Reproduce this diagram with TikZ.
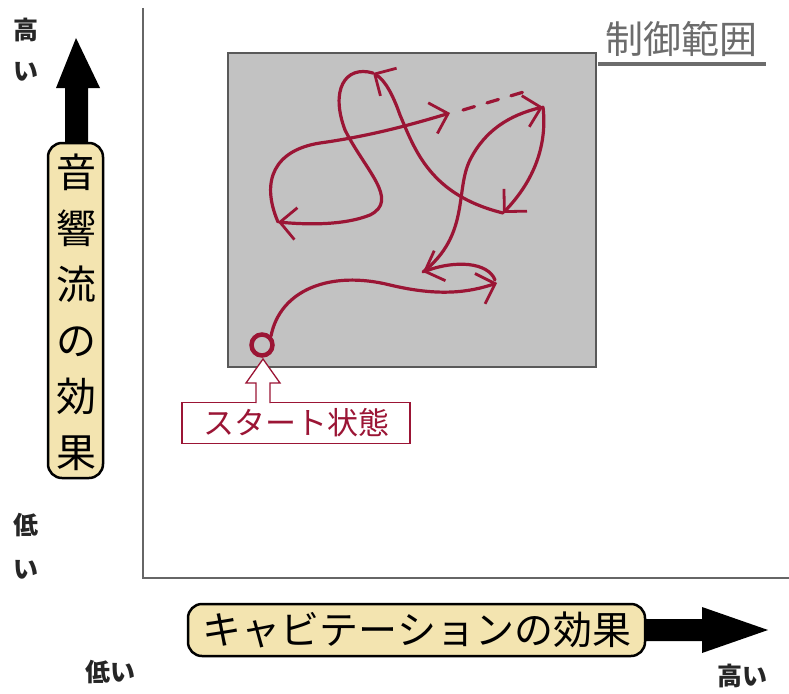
\documentclass[tikz,border=0pt]{standalone}
\usepackage{fontspec}
\setmainfont{Noto Sans CJK JP}
\usetikzlibrary{arrows.meta}
\definecolor{dred}{HTML}{9B1535}
\definecolor{tan}{HTML}{F3E4B0}
\definecolor{boxgray}{HTML}{C2C2C2}
\tikzset{
  axisline/.style={draw=gray!80!black, line width=1.6pt},
  labelbox/.style={draw=black, line width=2.5pt, fill=tan, rounded corners=14pt},
  bigarrow/.style={fill=black},
  curve/.style={draw=dred, line width=3.2pt, line cap=round},
  tipped/.style={curve, -{Straight Barb[length=16pt,width=32pt,line width=2.8pt]}},
  small/.style={font=\fontsize{25}{28}\selectfont\bfseries, text=black!85},
}
\begin{document}
\begin{tikzpicture}[x=1pt,y=-1pt]
\useasboundingbox (0,0) rectangle (789,693);
% axes
\coordinate (ytop) at (143,8);
\coordinate (orig) at (143,578);
\coordinate (xend) at (789,578);
\draw[axisline] (ytop) -- (orig) -- (xend);
% control region
\draw[fill=boxgray, draw=gray!70!black, line width=1.2pt] (228,53) rectangle (596,367);
\node[font=\fontsize{38}{40}\selectfont, text=gray!85!black, anchor=south] (ctl) at (681,60) {制御範囲};
\draw[gray!85!black, line width=3pt] (598,64) -- (766,64);
% y axis arrow
\fill[bigarrow] (65,145) -- (65,88) -- (56,88) -- (76,38) -- (100,88) -- (88,88) -- (88,145) -- cycle;
\draw[labelbox] (48,143) rectangle (103,478);
\node[font=\fontsize{40}{56}\selectfont, align=center, text=black] (ylab) at (76,312) {音\\響\\流\\の\\効\\果};
% x axis arrow
\fill[bigarrow] (640,619) -- (702,619) -- (702,607) -- (768,630) -- (702,653) -- (702,641) -- (640,641) -- cycle;
\draw[labelbox] (188,604) rectangle (645,656);
\node[font=\fontsize{39}{40}\selectfont, text=black] (xlab) at (417,630) {キャビテーションの効果};
% high / low labels
\node[small] (yh1) at (26,30) {高};
\node[small] (yh2) at (26,72) {い};
\node[small] (yl1) at (26,525) {低};
\node[small] (yl2) at (26,570) {い};
\node[small] (xl) at (110,672) {低い};
\node[small] (xh) at (742,676) {高い};
% start state
\node[draw=dred, line width=1.2pt, fill=white, font=\fontsize{31}{34}\selectfont, text=dred, minimum width=228pt, minimum height=41pt, inner sep=2pt] (start) at (296,423) {スタート状態};
\draw[dred, line width=1.3pt, fill=white] (256,403) -- (256,383) -- (246,383) -- (263,359) -- (280,383) -- (270,383) -- (270,403);
\node[circle, draw=dred, line width=4.5pt, minimum size=21pt, inner sep=0pt] (s0) at (262,345) {};
% wandering path
\coordinate (a1) at (497,283);
\coordinate (a2) at (423,272);
\coordinate (a3) at (543,107);
\coordinate (a4) at (503,213);
\coordinate (a5) at (373,73);
\coordinate (a6) at (278,222);
\coordinate (a7) at (450,113);
\coordinate (d1) at (463,110);
\coordinate (d2) at (527,91);
\draw[tipped] (s0.north east) .. controls (280,290) and (330,270) .. (390,285) .. controls (440,297) and (470,292) .. (a1);
\draw[tipped] (495,280) .. controls (488,262) and (455,260) .. (a2);
\draw[tipped] (a2) .. controls (470,235) and (455,190) .. (470,160) .. controls (485,130) and (510,115) .. (a3);
\draw[tipped] (a3) .. controls (548,150) and (530,185) .. (a4);
\draw[tipped] (a4) .. controls (430,195) and (415,150) .. (400,115) .. controls (393,95) and (385,80) .. (a5);
\draw[tipped] (a5) .. controls (345,65) and (330,90) .. (345,130) .. controls (365,170) and (400,200) .. (370,215) .. controls (345,225) and (310,225) .. (a6);
\draw[tipped] (a6) .. controls (260,180) and (275,150) .. (320,143) .. controls (370,136) and (410,125) .. (a7);
\draw[curve, dash pattern=on 12pt off 13pt] (d1) -- (d2);
\end{tikzpicture}
\end{document}
